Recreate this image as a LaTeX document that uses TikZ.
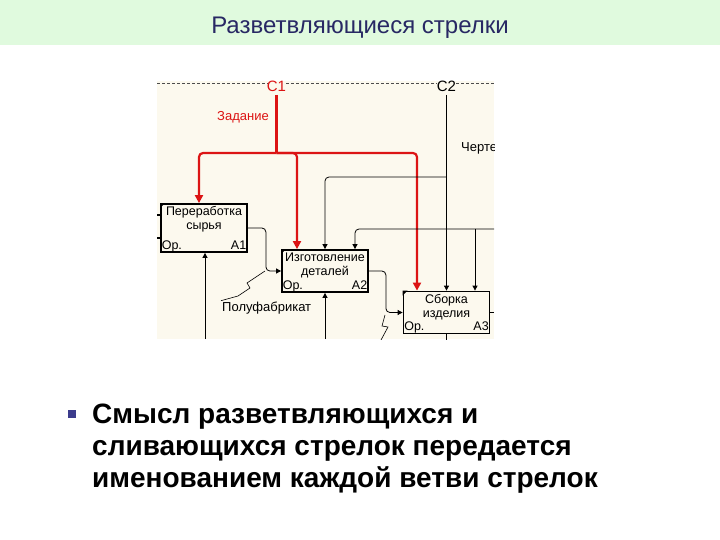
\documentclass[tikz,border=0pt]{standalone}
\usepackage{fontspec}
\setmainfont{Liberation Sans}
\usepackage{xcolor}
\usetikzlibrary{arrows.meta,positioning}

\definecolor{bandgreen}{RGB}{224,250,222}
\definecolor{titleblue}{RGB}{40,40,100}
\definecolor{paper}{RGB}{252,249,238}
\definecolor{idefred}{RGB}{220,20,20}
\definecolor{bulletblue}{RGB}{60,60,140}

\begin{document}
\begin{tikzpicture}[x=1pt,y=-1pt,
    box/.style={draw,line width=1.8pt,minimum width=86pt,minimum height=48pt,
                inner sep=0pt},
    boxtext/.style={font=\fontsize{12.5}{14}\selectfont,align=center,inner sep=1pt},
    corner/.style={font=\fontsize{12.5}{13}\selectfont,inner sep=1.5pt,
                   text height=9pt,text depth=2pt},
    redarr/.style={idefred,line width=2.2pt,rounded corners=4pt,
                   -{Triangle[length=8pt,width=8pt]}},
    blkarr/.style={black,line width=0.8pt,rounded corners=4pt,
                   -{Triangle[length=5pt,width=5pt]}},
    lbl/.style={font=\fontsize{13}{14}\selectfont,inner sep=1pt}]
  \useasboundingbox (0,0) rectangle (720,540);
  % title band
  \fill[bandgreen] (0,0) rectangle (720,45);
  \node[font=\fontsize{24}{28}\selectfont,text=titleblue] (title) at (360,28)
    {Разветвляющиеся стрелки};

  % diagram cut-out
  \begin{scope}
    \clip (157,81) rectangle (494,339);
    \fill[paper] (157,81) rectangle (494,339);
    \draw[black!70,densely dashed] (157,83) -- (268,83) (286,83) -- (437,83)
      (456,83) -- (494,83);
    \node[text=idefred,font=\fontsize{15}{16}\selectfont] (c1) at (276.5,86) {C1};
    \node[font=\fontsize{15}{16}\selectfont] (c2) at (446.5,86) {C2};

    % activity boxes
    \node[box,minimum height=48pt] (a1) at (204,228) {};
    \node[box,minimum height=42pt] (a2) at (325,271) {};
    \node[box,minimum height=42pt] (a3) at (446.5,312.5) {};
    \foreach \b/\t/\n in {a1/{Переработка\\сырья}/А1,
                          a2/{Изготовление\\деталей}/А2,
                          a3/{Сборка\\изделия}/А3} {
      \node[boxtext,below=2.5pt of \b.north] {\t};
      \node[corner,anchor=south west] at (\b.south west) {Ор.};
      \node[corner,anchor=south east] at (\b.south east) {\n};
      \fill (\b.north west) -- ++(5,0) -- ++(-5,5) -- cycle;
    }

    % control C1 (red, branching)
    \coordinate (br) at (276.5,153);
    \draw[idefred,line width=2.2pt] (c1.south) -- (br);
    \draw[redarr] (br) -| ([xshift=-5pt]a1.north);
    \draw[redarr] (br) -| ([xshift=-28pt]a2.north);
    \draw[redarr] (br) -| ([xshift=-29.5pt]a3.north);
    \node[lbl,text=idefred] (zad) at (243,117) {Задание};

    % control C2 (black)
    \coordinate (c2j) at (446.5,177);
    \draw[blkarr] (c2.south) -- (a3.north);
    \draw[blkarr] (c2j) -| (a2.north);
    \node[lbl,anchor=west] (chert) at (460,148) {Черте};
    \coordinate (r1) at (494,229);
    \coordinate (r1j) at (475,229);
    \draw[blkarr] (r1) -| ([xshift=30pt]a2.north);
    \draw[blkarr] (r1j) -- ([xshift=28.5pt]a3.north);

    % inputs of A1
    \draw[line width=2pt] (157,215) -- (161,215) (157,238) -- (161,238);

    % outputs
    \draw[blkarr] (a1.east) -- ++(18,0) |- (a2.west);
    \draw[blkarr] (a2.east) -- ++(17,0) |- (a3.west);
    \coordinate (r2) at (494,312.5);
    \draw[black,line width=0.8pt] (a3.east) -- (r2);
    \node[lbl,anchor=west] (pf) at (221,308) {Полуфабрикат};
    \draw[black,line width=0.6pt] (265,271) -- (247,283) -- (250,288)
      -- (238,296) -- (pf.north west);
    \draw[black,line width=0.6pt] (385,315) -- (382,326) -- (388,327)
      -- (381,340);

    % mechanisms
    \coordinate (m1) at (205,339);
    \coordinate (m2) at (325,339);
    \draw[blkarr] (m1) -- ([xshift=1pt]a1.south);
    \draw[blkarr] (m2) -- (a2.south);
    \draw[black,line width=0.8pt] (a3.south) -- ++(0,6);
  \end{scope}

  % bullet text
  \fill[bulletblue] (68,410) rectangle (76,418);
  \node[anchor=north west,align=left,inner sep=0pt,
        font=\fontsize{28}{32}\selectfont\bfseries] (txt) at (92,404)
    {Смысл разветвляющихся и\\сливающихся стрелок передается\\
     именованием каждой ветви стрелок};
\end{tikzpicture}
\end{document}
